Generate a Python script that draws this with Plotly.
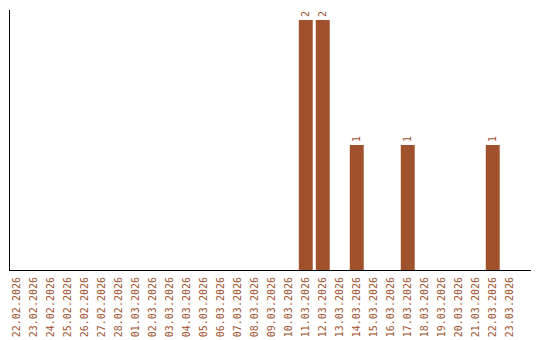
import plotly.graph_objects as go

dates = ["22.02.2026", "23.02.2026", "24.02.2026", "25.02.2026", "26.02.2026",
         "27.02.2026", "28.02.2026", "01.03.2026", "02.03.2026", "03.03.2026",
         "04.03.2026", "05.03.2026", "06.03.2026", "07.03.2026", "08.03.2026",
         "09.03.2026", "10.03.2026", "11.03.2026", "12.03.2026", "13.03.2026",
         "14.03.2026", "15.03.2026", "16.03.2026", "17.03.2026", "18.03.2026",
         "19.03.2026", "20.03.2026", "21.03.2026", "22.03.2026", "23.03.2026"]
counts = [0, 0, 0, 0, 0, 0, 0, 0, 0, 0,
          0, 0, 0, 0, 0, 0, 0, 2, 2, 0,
          1, 0, 0, 1, 0, 0, 0, 0, 1, 0]

color = "#A0522D"
labels = [str(v) if v else "" for v in counts]

fig = go.Figure(go.Bar(
    x=dates, y=counts, marker_color=color, marker_line_width=0,
    text=labels, textposition="outside", textangle=-90,
    textfont=dict(family="DejaVu Sans Mono", size=10, color=color),
    cliponaxis=False,
))
fig.update_layout(
    width=540, height=340,
    margin=dict(l=10, r=9, t=10, b=70),
    plot_bgcolor="white", paper_bgcolor="white",
    bargap=0.18, showlegend=False,
    font=dict(family="DejaVu Sans Mono", size=10, color=color),
)
fig.update_xaxes(type="category", range=[-0.4, 30.25], tickangle=-90,
                 showline=True, linecolor="black", linewidth=1, showgrid=False,
                 ticks="", automargin=False, ticklabelstandoff=2,
                 tickfont=dict(family="DejaVu Sans Mono", size=10, color=color))
fig.update_yaxes(range=[0, 2.08], showline=True, linecolor="black", linewidth=1,
                 showgrid=False, showticklabels=False, ticks="", zeroline=False,
                 automargin=False)
fig.write_html("out.html")
